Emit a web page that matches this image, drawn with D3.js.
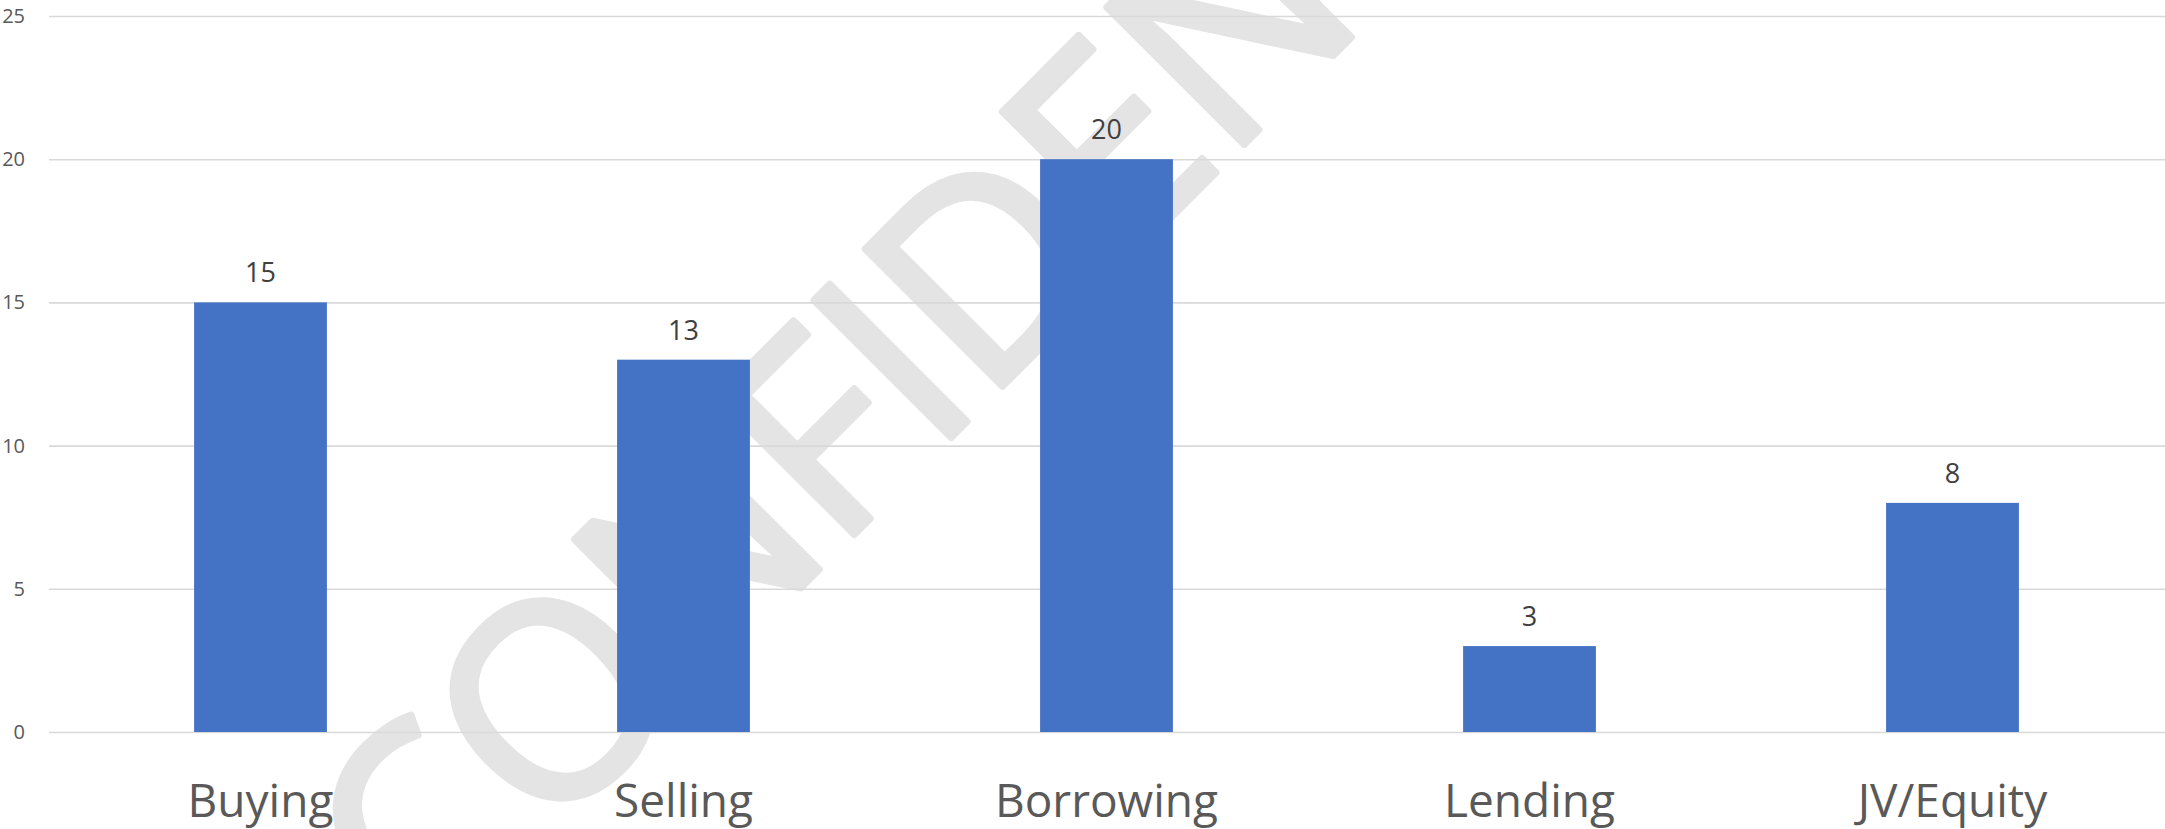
<!DOCTYPE html>
<html>
<head>
<meta charset="utf-8">
<script src="https://cdn.jsdelivr.net/npm/d3@7"></script>
<style>
  html, body { margin: 0; padding: 0; background: #ffffff; }
  svg { display: block; }
</style>
</head>
<body>
<svg id="chart" width="2165" height="829"></svg>
<script>
// Deal counts by transaction type
const categories = ["Buying", "Selling", "Borrowing", "Lending", "JV/Equity"];
const values = [15, 13, 20, 3, 8];
const yTicks = [0, 5, 10, 15, 20, 25];
const watermarkText = "CONFIDENTIAL";

const W = 2165, H = 829;
const plot = { left: 49, right: 2164, top: 16, bottom: 732 };

const svg = d3.select("#chart");

const x = d3.scaleBand()
  .domain(categories)
  .range([plot.left, plot.right])
  .paddingInner(0.686)
  .paddingOuter(0.343);

const y = d3.scaleLinear()
  .domain([0, 25])
  .range([plot.bottom, plot.top]);

// Diagonal watermark behind the chart
const wm = svg.append("g")
  .attr("transform", "rotate(-45)");
wm.append("text")
  .attr("x", -378)
  .attr("y", 982)
  .attr("textLength", 1860)
  .attr("lengthAdjust", "spacing")
  .attr("font-family", "'Open Sans', sans-serif")
  .attr("font-size", 272)
  .attr("fill", "#e4e4e4")
  .attr("stroke", "#e4e4e4")
  .attr("stroke-width", 7)
  .attr("stroke-linejoin", "round")
  .text(watermarkText);

// Horizontal gridlines
const yAxis = d3.axisLeft(y)
  .tickValues(yTicks)
  .tickSize(-(W - plot.left))
  .tickPadding(24);

const gy = svg.append("g")
  .attr("transform", `translate(${plot.left},0)`)
  .call(yAxis);
gy.select(".domain").remove();
gy.selectAll(".tick line")
  .attr("stroke", "#d9d9d9")
  .attr("stroke-width", 1.6);
gy.selectAll(".tick text")
  .attr("font-family", "'Open Sans', sans-serif")
  .attr("font-size", 20)
  .attr("fill", "#595959");

// Bars
svg.append("g")
  .selectAll("rect")
  .data(values)
  .join("rect")
  .attr("x", (d, i) => x(categories[i]))
  .attr("y", d => y(d))
  .attr("width", x.bandwidth())
  .attr("height", d => y(0) - y(d))
  .attr("fill", "#4472c4");

// Value labels above bars
svg.append("g")
  .selectAll("text")
  .data(values)
  .join("text")
  .attr("x", (d, i) => x(categories[i]) + x.bandwidth() / 2)
  .attr("y", d => y(d) - 20)
  .attr("text-anchor", "middle")
  .attr("font-family", "'Open Sans', sans-serif")
  .attr("font-size", 27)
  .attr("fill", "#404040")
  .text(d => d);

// Category axis labels
const xAxis = d3.axisBottom(x).tickSize(0).tickPadding(0);
const gx = svg.append("g")
  .attr("transform", `translate(0,${plot.bottom})`)
  .call(xAxis);
gx.select(".domain").remove();
gx.selectAll(".tick text")
  .attr("dy", null)
  .attr("y", 85)
  .attr("font-family", "'Open Sans', sans-serif")
  .attr("font-size", 46)
  .attr("fill", "#595959");
</script>
</body>
</html>
